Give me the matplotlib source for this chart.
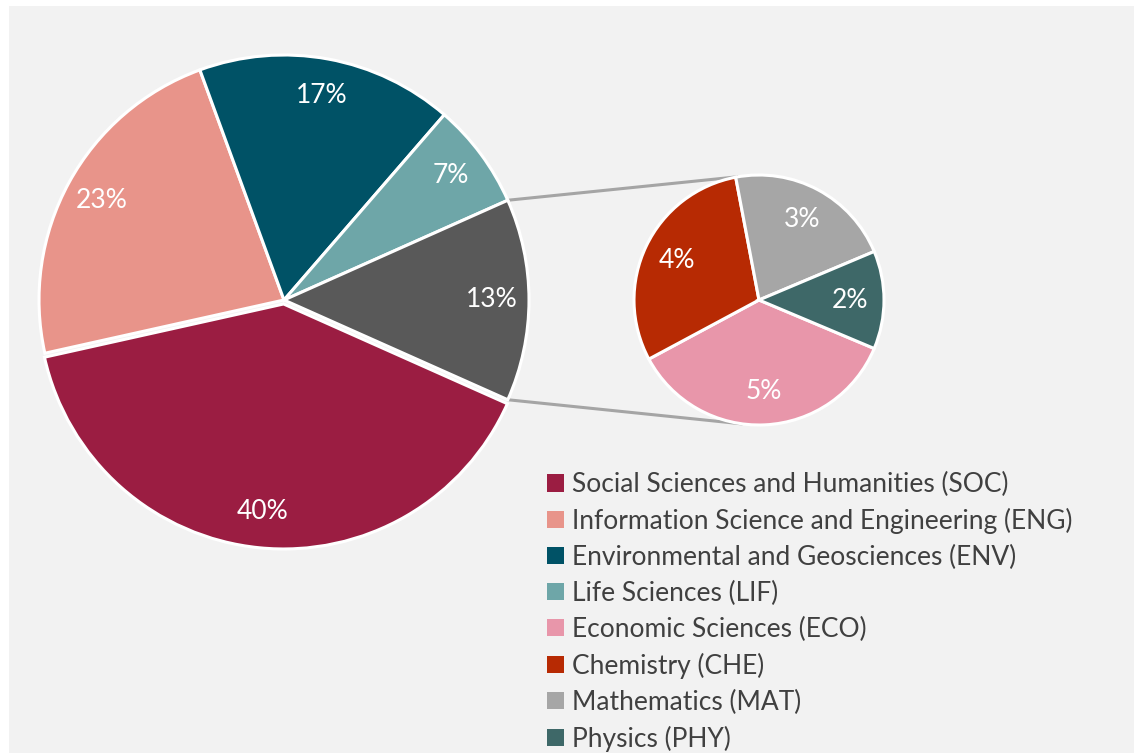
import numpy as np
import matplotlib
matplotlib.use("Agg")
import matplotlib.pyplot as plt
from matplotlib.patches import Patch, Rectangle

plt.rcParams["font.family"] = ["Lato", "DejaVu Sans"]

# main pie
main_labels = [
    "Social Sciences and Humanities (SOC)",
    "Information Science and Engineering (ENG)",
    "Environmental and Geosciences (ENV)",
    "Life Sciences (LIF)",
]
main_values = [40.0, 23.0, 17.0, 7.0]
main_colors = ["#9b1d42", "#e8948a", "#005266", "#6ea6a8"]
other_color = "#595959"

# second pie (split of the grey slice)
sub_labels = [
    "Economic Sciences (ECO)",
    "Chemistry (CHE)",
    "Mathematics (MAT)",
    "Physics (PHY)",
]
sub_values = [4.8, 4.0, 2.9, 1.7]
sub_colors = ["#e896aa", "#b72a03", "#a6a6a6", "#3e6868"]

W, H = 1134, 753
fig = plt.figure(figsize=(W / 100, H / 100), dpi=100, facecolor="white")
ax = fig.add_axes([0, 0, 1, 1])

ax.add_patch(Rectangle((9, 0), W - 9, H - 6, facecolor="#f2f2f2", edgecolor="none", zorder=0))

other = sum(sub_values)
vals = main_values + [other]
total = sum(vals)
cols = main_colors + [other_color]

c1, r1 = (284, H - 300), 245
c2, r2 = (759, H - 300), 125

start1 = -other / total * 360 / 2
wedges1, texts1 = ax.pie(
    vals, colors=cols, startangle=start1, counterclock=False,
    center=c1, radius=r1, explode=[4, 0, 0, 0, 0],
    labels=[f"{v / total * 100:.0f}%" for v in vals], labeldistance=0.85,
    wedgeprops=dict(edgecolor="white", linewidth=2.2),
    textprops=dict(color="white", fontsize=19),
)
for t in texts1:
    t.set_ha("center")
    t.set_va("center")

start2 = -sub_values[-1] / other * 360 / 2
wedges2, texts2 = ax.pie(
    sub_values, colors=sub_colors, startangle=start2, counterclock=False,
    center=c2, radius=r2,
    labels=[f"{v / total * 100:.0f}%" for v in sub_values], labeldistance=0.73,
    wedgeprops=dict(edgecolor="white", linewidth=2.2),
    textprops=dict(color="white", fontsize=19),
)
for t in texts2:
    t.set_ha("center")
    t.set_va("center")

# connector lines
a_main = np.deg2rad(-start1)
for sgn, a_sub in [(1, 99.5), (-1, -97.5)]:
    x0 = c1[0] + r1 * np.cos(sgn * a_main)
    y0 = c1[1] + r1 * np.sin(sgn * a_main)
    x1 = c2[0] + r2 * np.cos(np.deg2rad(a_sub))
    y1 = c2[1] + r2 * np.sin(np.deg2rad(a_sub))
    ax.plot([x0, x1], [y0, y1], color="#a5a5a5", lw=2.2, zorder=0.5, solid_capstyle="butt")

handles = [Patch(facecolor=c, edgecolor="none") for c in main_colors + sub_colors]
leg = ax.legend(
    handles, main_labels + sub_labels,
    loc="upper left", bbox_to_anchor=(547 / W, 1 - 472 / H), bbox_transform=ax.transAxes,
    frameon=False, fontsize=19, labelcolor="#404040",
    handlelength=0.64, handleheight=0.64, handletextpad=0.32,
    labelspacing=0.41, borderpad=0, borderaxespad=0,
)

ax.set_xlim(0, W)
ax.set_ylim(0, H)
ax.set_aspect("equal")
ax.axis("off")

fig.savefig("out.png", dpi=100, facecolor="white")
